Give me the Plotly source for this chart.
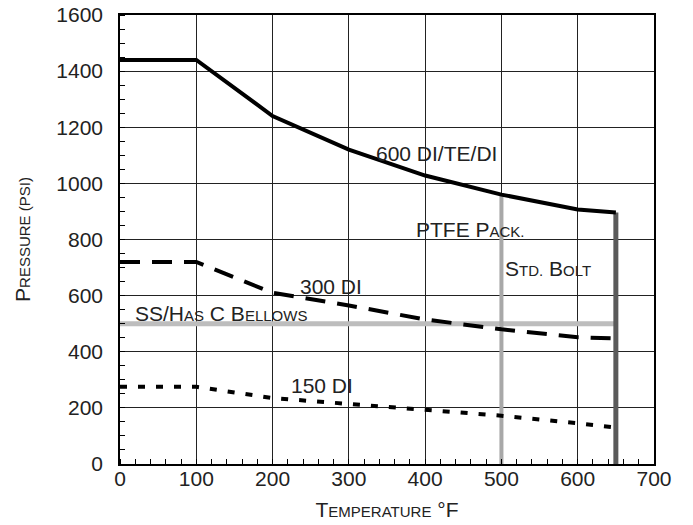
import plotly.graph_objects as go

# ---- data ----
temps = [0, 100, 200, 300, 400, 500, 600, 650]
p600 = [1440, 1440, 1240, 1120, 1028, 960, 907, 896]
p300 = [720, 720, 610, 565, 515, 480, 452, 447]
p150 = [275, 275, 235, 215, 195, 172, 145, 130]

bellows_limit_psi = 500          # SS/Has C Bellows
bellows_max_temp = 650
ptfe_limit_temp = 500            # PTFE packing
ptfe_top_psi = 960
bolt_limit_temp = 650            # Std. bolt
bolt_top_psi = 896

x_ticks = [0, 100, 200, 300, 400, 500, 600, 700]
y_ticks = [0, 200, 400, 600, 800, 1000, 1200, 1400, 1600]

FONT = "Liberation Sans, Arial, Helvetica, sans-serif"
TXT = "#222222"
BIG = 21
SM = 15


def sc(s):
    return f'<span style="font-size:{SM}px">{s}</span>'


fig = go.Figure()

# grey limit lines
fig.add_trace(go.Scatter(x=[0, bellows_max_temp], y=[bellows_limit_psi, bellows_limit_psi],
                         mode="lines", line=dict(color="#bdbdbd", width=5), hoverinfo="skip"))
fig.add_trace(go.Scatter(x=[ptfe_limit_temp, ptfe_limit_temp], y=[0, ptfe_top_psi],
                         mode="lines", line=dict(color="#a8a8a8", width=4), hoverinfo="skip"))
fig.add_trace(go.Scatter(x=[bolt_limit_temp, bolt_limit_temp], y=[0, bolt_top_psi],
                         mode="lines", line=dict(color="#5a5a5a", width=5), hoverinfo="skip"))

# rating curves
fig.add_trace(go.Scatter(x=temps, y=p600, mode="lines",
                         line=dict(color="black", width=4)))
fig.add_trace(go.Scatter(x=temps, y=p300, mode="lines",
                         line=dict(color="black", width=4, dash="20px,12px")))
fig.add_trace(go.Scatter(x=temps, y=p150, mode="lines",
                         line=dict(color="black", width=4, dash="7px,11px")))

ann = [
    dict(x=415, y=1108, text="600 DI/TE/DI"),
    dict(x=459, y=834, text="PTFE P" + sc("ACK.")),
    dict(x=561, y=698, text="S" + sc("TD.") + " B" + sc("OLT")),
    dict(x=276, y=634, text="300 DI"),
    dict(x=17, y=538, text="SS/H" + sc("AS") + " C B" + sc("ELLOWS"), xanchor="left"),
    dict(x=265, y=278, text="150 DI"),
]
for a in ann:
    fig.add_annotation(x=a["x"], y=a["y"], text=a["text"], showarrow=False,
                       xanchor=a.get("xanchor", "center"), yanchor="middle",
                       font=dict(family=FONT, size=BIG, color=TXT))

axis_common = dict(showline=True, linecolor="black", linewidth=1.5, mirror=True,
                   showgrid=True, gridcolor="#222222", gridwidth=1,
                   zeroline=False, ticks="", ticklabeloverflow="allow",
                   tickfont=dict(family=FONT, size=BIG, color=TXT))

fig.update_xaxes(range=[0, 700], tickvals=x_ticks,
                 minor=dict(ticks="inside", dtick=20, ticklen=5, tickcolor="black", showgrid=False),
                 ticklabelstandoff=-5,
                 title=dict(text="T" + sc("EMPERATURE") + " °F",
                            font=dict(family=FONT, size=BIG, color=TXT), standoff=13),
                 **axis_common)
fig.update_yaxes(range=[0, 1600], tickvals=y_ticks,
                 minor=dict(ticks="inside", dtick=50, ticklen=5, tickcolor="black", showgrid=False),
                 ticklabelstandoff=11,
                 title=dict(text="P" + sc("RESSURE (PSI)"),
                            font=dict(family=FONT, size=BIG, color=TXT), standoff=20),
                 **axis_common)

fig.update_layout(width=693, height=525, showlegend=False,
                  plot_bgcolor="white", paper_bgcolor="white",
                  margin=dict(l=120, r=39, t=15, b=61, autoexpand=False),
                  font=dict(family=FONT, color=TXT))

# remove the browser's default 8px body margin so the figure fills the window
fig.write_html("out.html",
               config={"displayModeBar": False},
               post_script="document.body.style.margin='0';document.body.style.overflow='hidden';")
